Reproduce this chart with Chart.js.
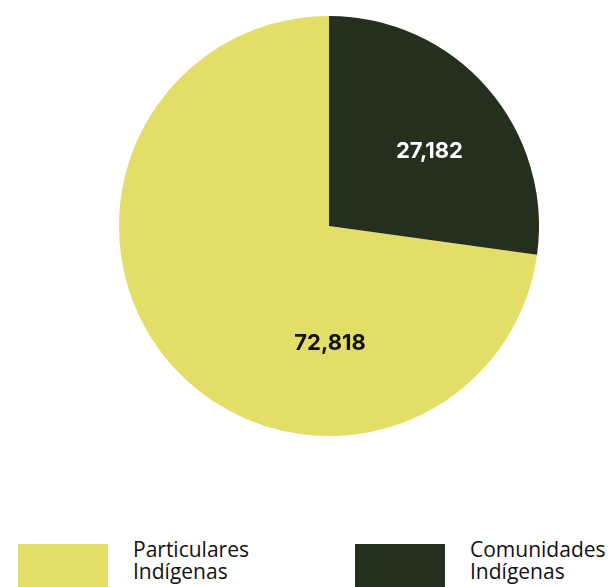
<!DOCTYPE html>
<html>
<head>
<meta charset="utf-8">
<script src="https://cdn.jsdelivr.net/npm/chart.js@4"></script>
<style>
  html, body { margin:0; padding:0; background:#fff; }
  body { width:611px; height:587px; position:relative; overflow:hidden; font-family:"Open Sans", sans-serif; }
  #wrap { position:absolute; left:119px; top:16px; width:420px; height:420px; }
  .legend { position:absolute; top:538px; display:flex; align-items:flex-start; }
  .legend .box { width:90px; height:50px; margin-top:6px; }
  .legend .txt { margin-left:25px; font-size:21px; line-height:22px; color:#111; }
</style>
</head>
<body>
<div id="wrap"><canvas id="pie"></canvas></div>
<div id="legend"></div>
<script>
const categories = ['Particulares Indígenas', 'Comunidades Indígenas'];
const values = [72.818, 27.182];
const valueLabels = ['72,818', '27,182'];
const colors = ['#e3de67', '#252f1d'];
const labelColors = ['#111111', '#ffffff'];

const total = values.reduce((a,b)=>a+b, 0);
// first slice starts where the second one ends, so the dark one sits at 12 o'clock
const rotation = 360 * values[1] / total;

// label placement: angle from 12 o'clock (deg, clockwise) and fraction of radius
const labelSpots = [{ ang:179.5, r:0.56 }, { ang:53.5, r:0.595 }];

const sliceLabels = {
    id:'sliceLabels',
    afterDatasetsDraw(chart){
        const ctx = chart.ctx;
        const meta = chart.getDatasetMeta(0);
        ctx.save();
        ctx.font = 'bold 22px Inter, "Noto Sans", sans-serif';
        ctx.textAlign = 'center';
        ctx.textBaseline = 'middle';
        meta.data.forEach((arc, i) => {
            const s = labelSpots[i];
            const a = s.ang * Math.PI / 180;
            const x = arc.x + Math.sin(a) * arc.outerRadius * s.r;
            const y = arc.y - Math.cos(a) * arc.outerRadius * s.r;
            ctx.fillStyle = labelColors[i];
            ctx.fillText(valueLabels[i], x, y);
        });
        ctx.restore();
    }
};

new Chart(document.getElementById('pie'), {
    type:'pie',
    data:{ labels:categories, datasets:[{ data:values, backgroundColor:colors, borderWidth:0 }] },
    options:{
        responsive:true, maintainAspectRatio:false, animation:false,
        rotation:rotation,
        layout:{ padding:0 },
        plugins:{ legend:{ display:false }, tooltip:{ enabled:false } }
    },
    plugins:[sliceLabels]
});

// legend
const legendLeft = [18, 355];
const legend = document.getElementById('legend');
categories.forEach((c, i) => {
    const el = document.createElement('div');
    el.className = 'legend';
    el.style.left = legendLeft[i] + 'px';
    el.innerHTML = `<div class="box" style="background:${colors[i]}"></div><div class="txt">${c.replace(' ', '<br>')}</div>`;
    legend.appendChild(el);
});
</script>
</body>
</html>
